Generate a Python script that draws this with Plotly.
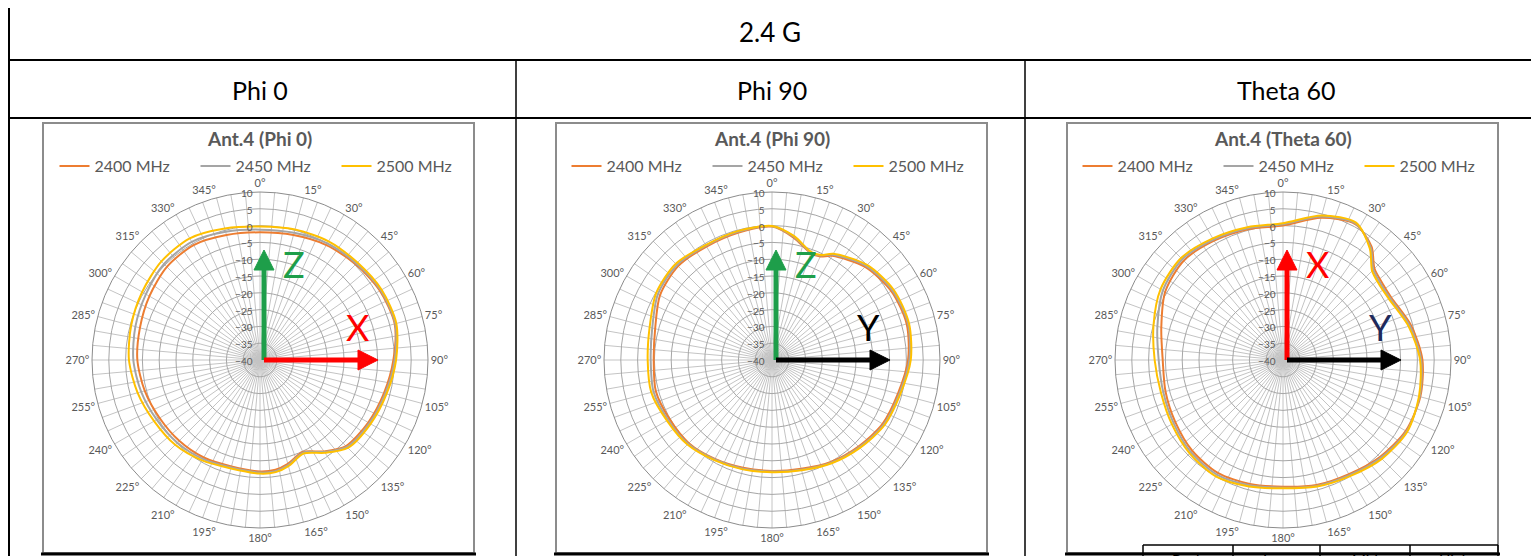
import plotly.graph_objects as go

# The page body keeps the browser's default 8px margin, so the figure is sized to the
# visible part of the window and all reference pixel positions are shifted by it.
PAGE_W, PAGE_H = 1539, 556
BODY_MARGIN = 8
W, H = PAGE_W - BODY_MARGIN, PAGE_H - BODY_MARGIN

# ---------------- data ----------------
HEADER = "2.4 G"
COLUMN_TITLES = ["Phi 0", "Phi 90", "Theta 60"]
CHART_TITLES = ["Ant.4 (Phi 0)", "Ant.4 (Phi 90)", "Ant.4 (Theta 60)"]
SERIES_NAMES = ["2400 MHz", "2450 MHz", "2500 MHz"]
SERIES_COLORS = ["#ED7D31", "#A5A5A5", "#FFC000"]
FOOT_CELLS = ["Peak", "Low", "Mid", "High"]

RADIAL_TICKS = [-40, -35, -30, -25, -20, -15, -10, -5, 0, 5, 10]
ANGLE_LABEL_STEP = 15

# Phi 0
PHI0_ANGLES = [0, 15, 30, 45, 60, 75, 90, 105, 120, 135, 145, 155, 165, 172, 180,
               195, 210, 225, 240, 255, 270, 285, 300, 315, 330, 345, 360]
PHI0_2400 = [-2.0, -1.5, -0.5, 0.3, 1.2, 1.5, -0.3, -1.8, -2.8, -3.8, -6.8, -9.8, -8.0, -7.0, -6.8,
             -7.2, -6.5, -6.0, -5.5, -4.5, -3.5, -3.0, -2.0, -0.8, -0.5, -1.5, -2.0]
PHI0_2450 = [-1.2, -0.8, 0.1, 0.6, 1.5, 1.7, 0.1, -1.4, -2.4, -3.4, -6.6, -9.6, -7.6, -6.6, -6.5,
             -6.9, -6.0, -5.2, -4.5, -3.4, -2.3, -1.6, -0.8, 0.4, 0.6, -0.5, -1.2]
PHI0_2500 = [-0.3, 0.2, 0.8, 1.0, 1.8, 2.0, 0.5, -1.0, -2.0, -3.0, -6.3, -9.3, -7.3, -6.3, -6.2,
             -6.6, -5.5, -4.3, -3.6, -2.3, -1.0, -0.3, 0.5, 1.5, 1.8, 0.5, -0.3]

# Phi 90
PHI90_ANGLES = [0, 10, 20, 25, 30, 45, 60, 75, 90, 105, 120, 135, 150, 165, 180,
                195, 210, 225, 240, 255, 270, 285, 300, 315, 330, 345, 360]
PHI90_2400 = [-0.3, -3.0, -6.2, -6.0, -4.2, -0.8, 1.0, 1.5, 0.5, -1.2, -2.0, -3.6, -5.0, -6.5, -7.0,
              -6.8, -6.0, -5.0, -4.8, -4.2, -4.8, -4.0, -1.5, -0.5, -1.0, -0.8, -0.3]
PHI90_2450 = [-0.2, -2.7, -6.0, -5.7, -3.8, -0.4, 1.4, 1.9, 0.9, -0.8, -1.6, -3.3, -4.7, -6.2, -6.8,
              -6.5, -5.8, -4.7, -4.3, -3.5, -3.9, -3.1, -0.8, 0.0, -0.7, -0.5, -0.2]
PHI90_2500 = [-0.1, -2.5, -5.8, -5.5, -3.5, 0.0, 1.8, 2.2, 1.3, -0.5, -1.3, -3.0, -4.5, -6.0, -6.6,
              -6.3, -5.6, -4.4, -3.9, -2.8, -3.0, -2.3, -0.2, 0.5, -0.5, -0.3, -0.1]

# Theta 60
TH60_ANGLES = [0, 15, 28, 38, 45, 52, 60, 75, 90, 105, 120, 135, 150, 165, 180,
               195, 210, 225, 240, 255, 270, 285, 300, 315, 330, 345, 360]
TH60_2400 = [0.0, 3.8, 5.8, 2.8, -1.5, -2.6, -2.8, -0.5, 1.5, 2.3, 2.2, 0.8, -0.8, -1.5, -2.3,
             -1.8, -1.2, -1.8, -3.0, -3.8, -4.2, -2.5, 0.5, 1.8, 1.0, 0.3, 0.0]
TH60_2450 = [0.4, 4.2, 6.0, 2.4, -2.0, -3.1, -3.2, -0.9, 1.1, 2.1, 2.5, 1.2, -0.4, -1.2, -2.0,
             -1.4, -0.6, -1.2, -2.4, -3.1, -3.0, -1.3, 1.3, 2.4, 1.4, 0.6, 0.4]
TH60_2500 = [0.7, 4.5, 6.3, 2.0, -2.5, -3.6, -3.6, -1.3, 0.8, 1.9, 2.7, 1.6, -0.1, -1.0, -1.8,
             -1.0, 0.0, -0.7, -1.8, -2.4, -1.8, -0.1, 2.1, 2.9, 1.8, 0.9, 0.7]

CHART_DATA = [
    (PHI0_ANGLES, [PHI0_2400, PHI0_2450, PHI0_2500]),
    (PHI90_ANGLES, [PHI90_2400, PHI90_2450, PHI90_2500]),
    (TH60_ANGLES, [TH60_2400, TH60_2450, TH60_2500]),
]

# ---------------- layout helpers (page pixel -> paper) ----------------
def px(x):
    return (x - BODY_MARGIN) / W


def py(y):
    return 1 - (y - BODY_MARGIN) / H


FONT = "Lato, 'Open Sans', sans-serif"
CENTERS = [(260, 360), (772, 360), (1283, 360)]
R = 168
BOXES = [(43, 123, 474, 553), (556, 123, 987, 553), (1067, 123, 1498, 553)]
AXIS_ARROWS = [
    [("up", "#1E9E4A", "Z"), ("right", "#FF0000", "X")],
    [("up", "#1E9E4A", "Z"), ("right", "#000000", "Y")],
    [("up", "#FF0000", "X"), ("right", "#000000", "Y")],
]
LABEL_COLORS_RIGHT = ["#FF0000", "#000000", "#1F2A5C"]


def text_ann(x, y, text, size, color, family=FONT, yanchor="middle"):
    return dict(x=px(x), y=py(y), xref="paper", yref="paper", text=text, showarrow=False,
                xanchor="center", yanchor=yanchor,
                font=dict(family=family, size=size, color=color))


def hline(x0, x1, y, color="#000000", width=2):
    return dict(type="line", xref="paper", yref="paper", x0=px(x0), x1=px(x1),
                y0=py(y), y1=py(y), line=dict(color=color, width=width))


def vline(x, y0, y1, color="#000000", width=2):
    return dict(type="line", xref="paper", yref="paper", x0=px(x), x1=px(x),
                y0=py(y0), y1=py(y1), line=dict(color=color, width=width))


fig = go.Figure()
shapes = []
annotations = []

angle_vals = list(range(0, 360, 5))
angle_text = [f"{a}°" if a % ANGLE_LABEL_STEP == 0 else "" for a in angle_vals]

for i, (angles, series) in enumerate(CHART_DATA):
    pid = "polar" if i == 0 else f"polar{i + 1}"
    lid = "legend" if i == 0 else f"legend{i + 1}"
    for name, color, vals in zip(SERIES_NAMES, SERIES_COLORS, series):
        fig.add_trace(go.Scatterpolar(
            r=vals, theta=angles, mode="lines", name=name,
            line=dict(color=color, width=2, shape="spline", smoothing=0.8),
            subplot=pid, legend=lid, showlegend=True,
        ))
    cx, cy = CENTERS[i]
    polar = dict(
        domain=dict(x=[px(cx - R), px(cx + R)], y=[py(cy + R), py(cy - R)]),
        bgcolor="white",
        angularaxis=dict(
            rotation=90, direction="clockwise", tickmode="array",
            tickvals=angle_vals, ticktext=angle_text, ticks="",
            gridcolor="#C4C4C4", gridwidth=1, linecolor="#8C8C8C", linewidth=1,
            tickfont=dict(family=FONT, size=11, color="#595959"),
        ),
        radialaxis=dict(
            range=[-40, 10], tickmode="array", tickvals=RADIAL_TICKS,
            angle=90, side="counterclockwise", ticks="", showline=False,
            gridcolor="#A6A6A6", gridwidth=1,
            tickfont=dict(family=FONT, size=10, color="#595959"),
        ),
    )
    fig.update_layout(**{pid: polar})
    fig.update_layout(**{lid: dict(
        orientation="h", x=px(cx + 6), xanchor="center", y=py(166), yanchor="middle",
        font=dict(family=FONT, size=16, color="#595959"), bgcolor="rgba(0,0,0,0)",
        itemwidth=30, entrywidth=96, tracegroupgap=0,
    )})

    # chart title
    annotations.append(text_ann(cx, 139, f"<b>{CHART_TITLES[i]}</b>", 19, "#595959"))
    # chart frame
    x0, y0, x1, y1 = BOXES[i]
    shapes.append(dict(type="rect", xref="paper", yref="paper", x0=px(x0), x1=px(x1),
                       y0=py(y1), y1=py(y0), line=dict(color="#8C8C8C", width=2)))
    shapes.append(hline(x0 - 2, x1 + 2, 554, width=3))

    # coordinate arrows drawn from the chart centre
    ox, oy = cx + 4, cy
    for direction, color, label in AXIS_ARROWS[i]:
        if direction == "up":
            tipy = oy - 110
            shapes.append(vline(ox, oy, tipy + 18, color=color, width=5))
            path = (f"M {px(ox - 10)} {py(tipy + 20)} L {px(ox + 10)} {py(tipy + 20)} "
                    f"L {px(ox)} {py(tipy)} Z")
            shapes.append(dict(type="path", xref="paper", yref="paper", path=path,
                               fillcolor=color, line=dict(color=color, width=1)))
            annotations.append(text_ann(ox + 30, tipy + 14, label, 36, color))
        else:
            tipx = ox + 114
            shapes.append(hline(ox, tipx - 18, oy, color=color, width=5))
            path = (f"M {px(tipx - 20)} {py(oy - 10)} L {px(tipx - 20)} {py(oy + 10)} "
                    f"L {px(tipx)} {py(oy)} Z")
            shapes.append(dict(type="path", xref="paper", yref="paper", path=path,
                               fillcolor=color, line=dict(color=color, width=1)))
            annotations.append(text_ann(ox + 93, oy - 33, label, 36, LABEL_COLORS_RIGHT[i]))

# ---------------- table ----------------
TABLE_LEFT, TABLE_RIGHT = 9, 1533
for y in (60, 118):
    shapes.append(hline(TABLE_LEFT, TABLE_RIGHT, y))
for x in (TABLE_LEFT, TABLE_RIGHT):
    shapes.append(vline(x, 0, PAGE_H))
for x in (516, 1025):
    shapes.append(vline(x, 60, PAGE_H, width=1.5))

annotations.append(text_ann(770, 32, HEADER, 26, "#000000"))
for cx, t in zip((260, 772, 1286), COLUMN_TITLES):
    annotations.append(text_ann(cx, 90, t, 25, "#000000"))

# partial footer table (cut off by the bottom edge, as in the reference)
FOOT_X = [1143, 1233, 1320, 1410, 1498]
shapes.append(hline(FOOT_X[0], FOOT_X[-1], 545, width=1.5))
for x in FOOT_X:
    shapes.append(vline(x, 545, PAGE_H, width=1.5))
for k, t in enumerate(FOOT_CELLS):
    annotations.append(text_ann((FOOT_X[k] + FOOT_X[k + 1]) / 2, 549, t, 15, "#000000",
                                yanchor="top"))

fig.update_layout(
    width=W, height=H, margin=dict(l=0, r=0, t=0, b=0),
    paper_bgcolor="white", plot_bgcolor="white",
    shapes=shapes, annotations=annotations,
    font=dict(family=FONT),
)

fig.write_html("out.html")
